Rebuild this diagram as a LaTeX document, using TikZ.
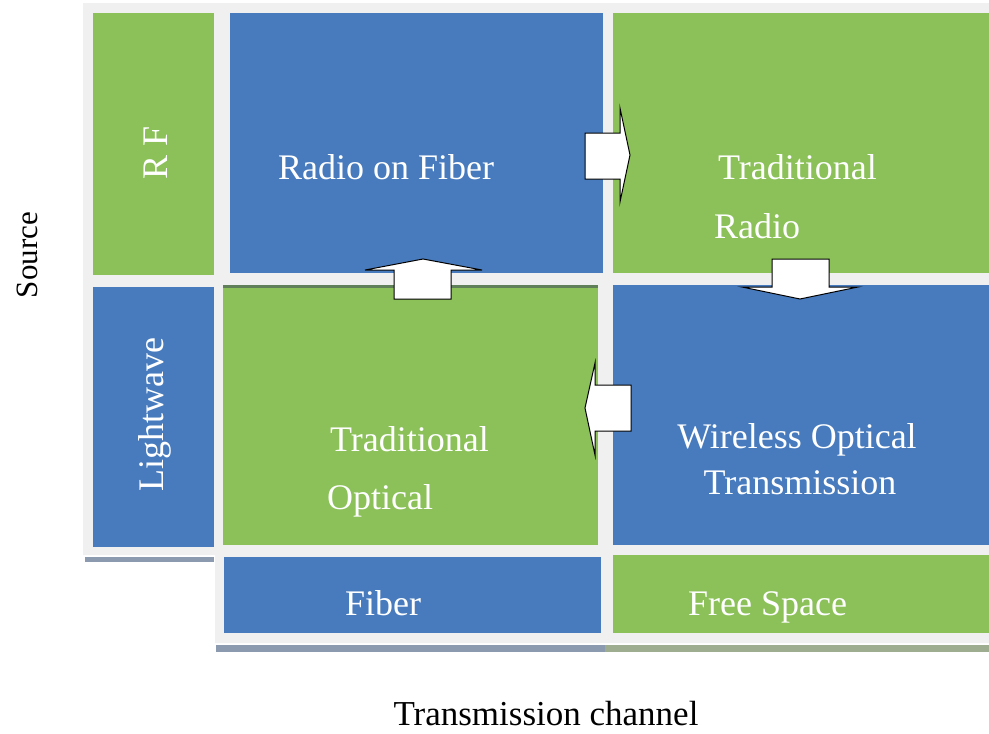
\documentclass[tikz,border=0pt]{standalone}
\usepackage{fontspec}
\setmainfont{Liberation Serif}
\definecolor{pblue}{RGB}{71,123,190}
\definecolor{pgreen}{RGB}{139,193,88}
\definecolor{pgray}{RGB}{240,240,240}
\definecolor{shblue}{RGB}{140,154,176}
\definecolor{shgreen}{RGB}{158,172,144}
\definecolor{dgreen}{RGB}{96,128,90}
\begin{document}
\begin{tikzpicture}[x=1pt,y=-1pt,
  panel/.style={draw=none,inner sep=0pt,outer sep=0pt,anchor=north west},
  lbl/.style={text=white,font=\fontsize{36}{40}\selectfont,inner sep=0pt},
  blk/.style={text=black,inner sep=0pt},
  barrow/.style={fill=white,draw=black,line width=1pt,line join=miter}]
\useasboundingbox (0,0) rectangle (989,734);
% background panel
\fill[pgray] (83,3) -- (989,3) -- (989,643) -- (215,643) -- (215,555) -- (83,555) -- cycle;
\fill[shblue] (85,557) rectangle (214,562);
\fill[shblue] (216,645) rectangle (605,652);
\fill[shgreen] (605,645) rectangle (989,652);
% panels
\node[panel,fill=pgreen,minimum width=121pt,minimum height=262pt] (rf) at (93,13) {};
\node[panel,fill=pblue,minimum width=121pt,minimum height=260pt] (lw) at (93,287) {};
\node[panel,fill=pblue,minimum width=373pt,minimum height=260pt] (rof) at (230,13) {};
\node[panel,fill=pgreen,minimum width=376pt,minimum height=260pt] (trad) at (613,13) {};
\node[panel,fill=pgreen,minimum width=375pt,minimum height=260pt] (topt) at (223,285) {};
\fill[dgreen] (223,285) rectangle (598,288);
\node[panel,fill=pblue,minimum width=376pt,minimum height=260pt] (wot) at (613,285) {};
\node[panel,fill=pblue,minimum width=377pt,minimum height=76pt] (fib) at (224,557) {};
\node[panel,fill=pgreen,minimum width=376pt,minimum height=78pt] (fs) at (613,555) {};
% texts
\node[lbl,anchor=base west] (trof) at (278,179) {Radio on Fiber};
\node[lbl,anchor=base west] (ttr1) at (718,179) {Traditional};
\node[lbl,anchor=base west] (ttr2) at (714,238) {Radio};
\node[lbl,anchor=base west] (tto1) at (330,451) {Traditional};
\node[lbl,anchor=base west] (tto2) at (327,509) {Optical};
\node[lbl,anchor=base] (two1) at (797,448) {Wireless Optical};
\node[lbl,anchor=base] (two2) at (800,494) {Transmission};
\node[lbl,anchor=base west] (tfib) at (345,615) {Fiber};
\node[lbl,anchor=base west] (tfs) at (688,615) {Free Space};
\node[lbl,rotate=90] (tlw) at (155,415) {Lightwave};
\node[lbl,rotate=90] (trf) at (156,153) {R F};
\node[blk,rotate=90,font=\fontsize{31}{34}\selectfont] (tsrc) at (27,255) {Source};
\node[blk,anchor=base,font=\fontsize{35}{38}\selectfont] (tch) at (546,725) {Transmission channel};
% block arrows
\draw[barrow] (585,133) -- (620,133) -- (620,108) -- (630,155) -- (620,202) -- (620,179) -- (585,179) -- cycle;
\draw[barrow] (394,299) -- (394,270) -- (365,270) -- (423,259) -- (482,270) -- (451,270) -- (451,299) -- cycle;
\draw[barrow] (772,259) -- (829,259) -- (829,287) -- (858,287) -- (800,299) -- (742,287) -- (772,287) -- cycle;
\draw[barrow] (631,385) -- (595,385) -- (595,363) -- (585,408) -- (595,455) -- (595,431) -- (631,431) -- cycle;
\end{tikzpicture}
\end{document}
